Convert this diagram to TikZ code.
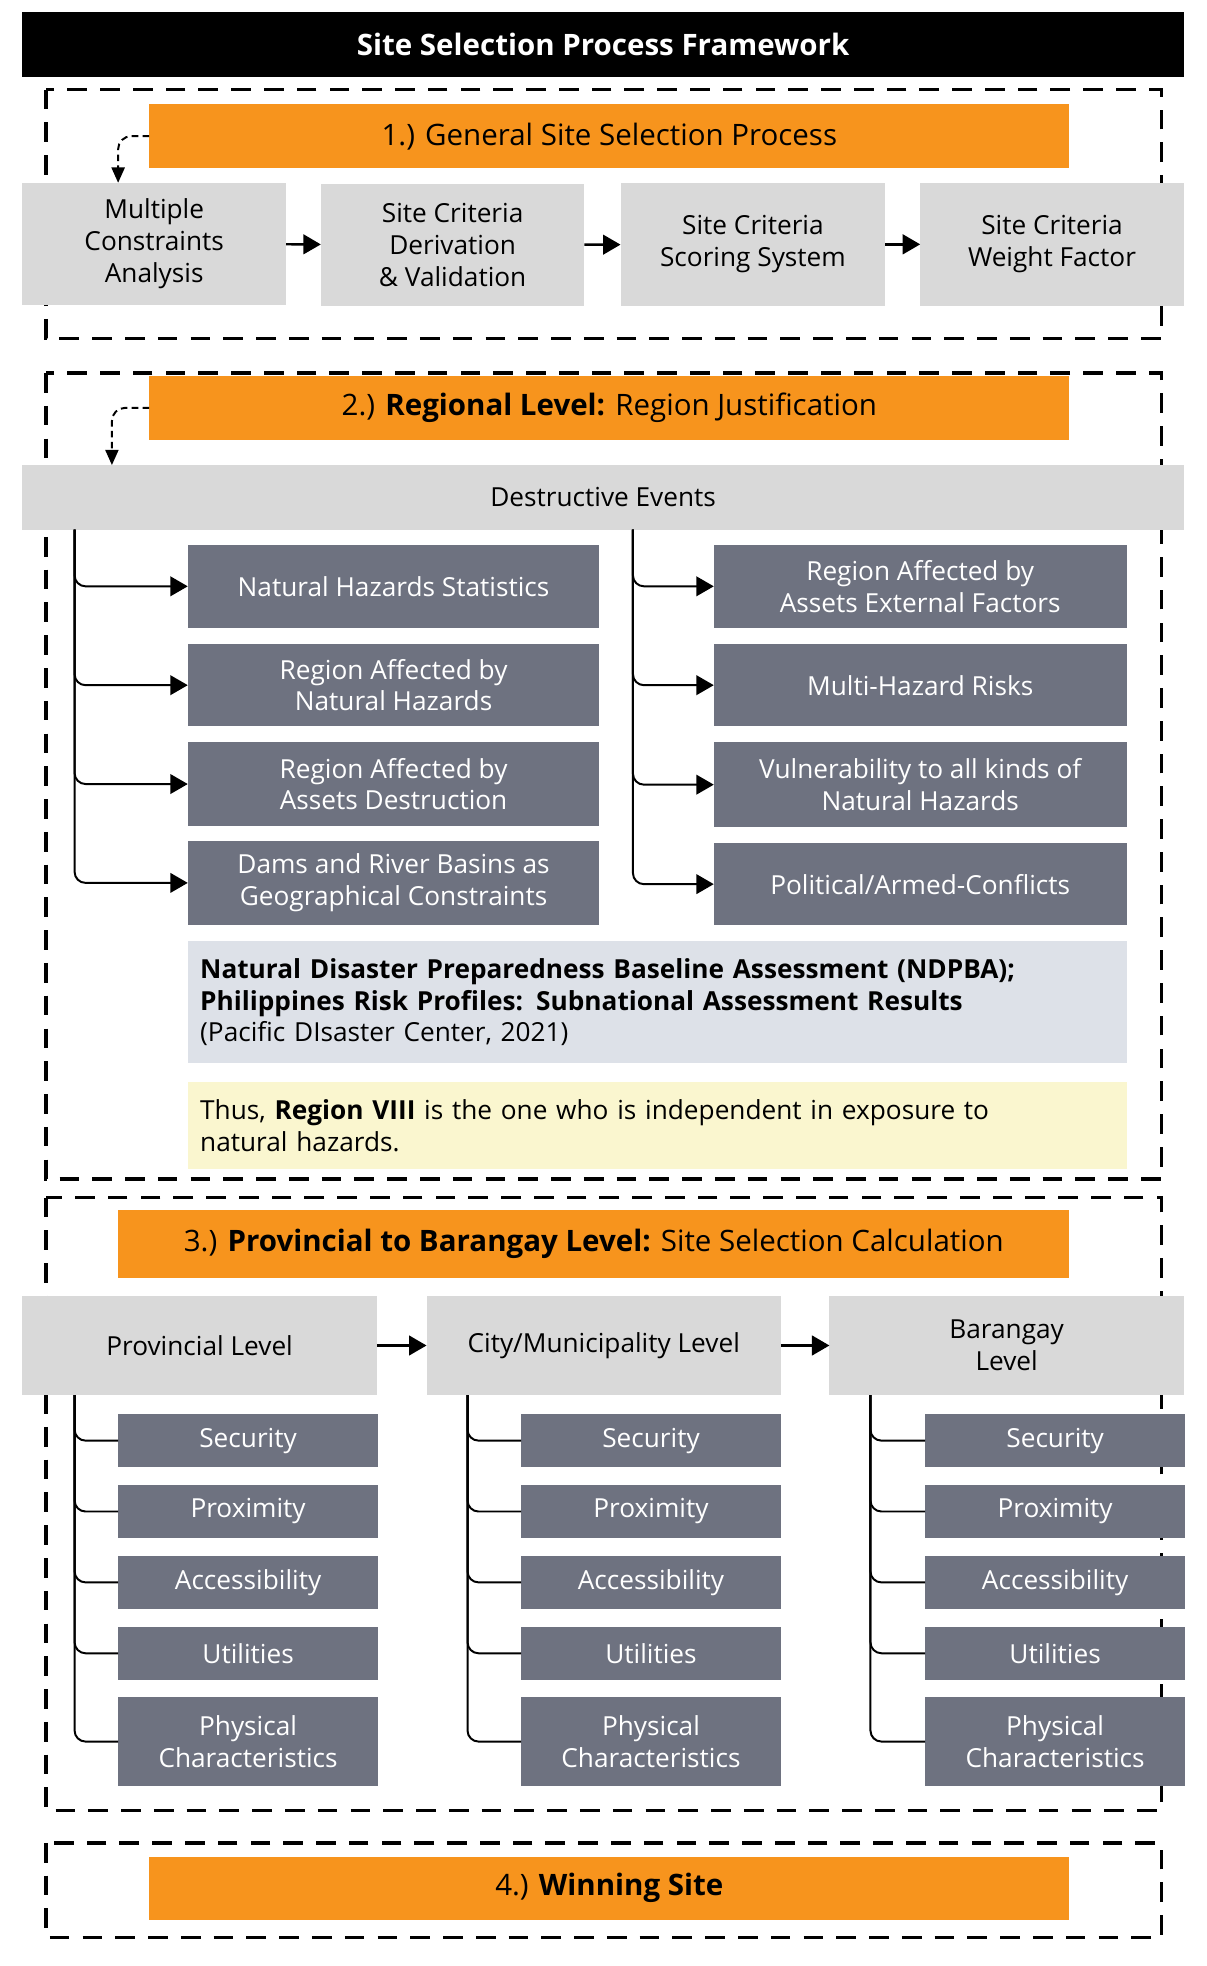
\documentclass[tikz,border=0pt]{standalone}
\usepackage{fontspec}
\setmainfont{Open Sans}
\usetikzlibrary{arrows.meta}
\definecolor{org}{HTML}{F7941D}
\definecolor{lg}{HTML}{D9D9D9}
\definecolor{dg}{HTML}{6E7280}
\definecolor{bl}{HTML}{DDE1E8}
\definecolor{yl}{HTML}{FAF6CF}
\newcommand{\mybox}[7]{\node[#6, minimum width={0.02cm*(#4-#2)}, minimum height={0.02cm*(#5-#3)}] (#1) at ({(#2+#4)/2},{(#3+#5)/2}) {#7};}
\begin{document}
\begin{tikzpicture}[x=0.02cm,y=-0.02cm,
  every node/.style={inner sep=0pt, outer sep=0pt, font=\fontsize{12}{14.5}\selectfont, align=center},
  org/.style={fill=org},
  lg/.style={fill=lg},
  dg/.style={fill=dg, text=white},
  sec/.style={draw, line width=1.5pt, dash pattern=on 9pt off 6pt},
  arr/.style={line width=1.1pt, -{Triangle[length=8pt,width=9pt]}},
  br/.style={line width=0.9pt, rounded corners=5pt},
  dsh/.style={line width=0.9pt, dash pattern=on 3pt off 2pt, rounded corners=6pt, -{Triangle[length=7pt,width=6pt]}}]
\useasboundingbox (0,0) rectangle (970,1581);
\mybox{title}{18}{10}{952}{62}{fill=black,text=white,font=\fontsize{13.5}{16}\selectfont\bfseries}{Site Selection Process Framework}
% section 1
\draw[sec] (37,72) rectangle (934,272);
\mybox{o1}{120}{84}{860}{135}{org,font=\fontsize{13.5}{16}\selectfont}{1.) General Site Selection Process}
\mybox{a}{18}{147}{230}{245}{lg}{Multiple\\Constraints\\Analysis}
\mybox{b}{258}{148}{470}{246}{lg}{Site Criteria\\Derivation\\\& Validation}
\mybox{c}{499}{147}{712}{246}{lg}{Site Criteria\\Scoring System}
\mybox{d}{740}{147}{952}{246}{lg}{Site Criteria\\Weight Factor}
\draw[arr] (a) -- (b);
\draw[arr] (b) -- (c);
\draw[arr] (c) -- (d);
\coordinate (a1) at (95,147);
\draw[dsh] (o1.west) -| (a1);
% section 2
\draw[sec] (37,300) rectangle (934,948);
\mybox{o2}{120}{302}{860}{354}{org,font=\fontsize{13.5}{16}\selectfont}{2.) \textbf{Regional Level:} Region Justification}
\mybox{de}{18}{374}{952}{426}{lg}{Destructive Events}
\coordinate (a2) at (90,374);
\draw[dsh] (o2.west) -| (a2);
\mybox{l1}{151}{438}{482}{505}{dg}{Natural Hazards Statistics}
\mybox{l2}{151}{518}{482}{584}{dg}{Region Affected by\\Natural Hazards}
\mybox{l3}{151}{597}{482}{664}{dg}{Region Affected by\\Assets Destruction}
\mybox{l4}{151}{676}{482}{744}{dg}{Dams and River Basins as\\Geographical Constraints}
\mybox{r1}{574}{438}{906}{505}{dg}{Region Affected by\\Assets External Factors}
\mybox{r2}{574}{518}{906}{584}{dg}{Multi-Hazard Risks}
\mybox{r3}{574}{597}{906}{665}{dg}{Vulnerability to all kinds of\\Natural Hazards}
\mybox{r4}{574}{678}{906}{744}{dg}{Political/Armed-Conflicts}
\coordinate (tl) at (60,426);
\coordinate (tr) at (509,426);
\foreach \n in {l1,l2,l3,l4} \draw[arr,br,line width=0.9pt] (tl) |- (\n.west);
\foreach \n in {r1,r2,r3,r4} \draw[arr,br,line width=0.9pt] (tr) |- (\n.west);
\node[fill=bl, minimum width={0.02cm*755}, minimum height={0.02cm*98}, text width={0.02cm*735}, align=left] (nd) at (528.5,806) {\textbf{Natural Disaster Preparedness Baseline Assessment (NDPBA);}\\\textbf{Philippines Risk Profiles: Subnational Assessment Results}\\(Pacific DIsaster Center, 2021)};
\node[fill=yl, minimum width={0.02cm*755}, minimum height={0.02cm*70}, text width={0.02cm*735}, align=left] (th) at (528.5,905) {Thus, \textbf{Region VIII} is the one who is independent in exposure to\\natural hazards.};
% section 3
\draw[sec] (37,963) rectangle (934,1456);
\mybox{o3}{95}{973}{860}{1028}{org,font=\fontsize{13.5}{16}\selectfont}{3.) \textbf{Provincial to Barangay Level:} Site Selection Calculation}
\mybox{p}{18}{1042}{303}{1122}{lg}{Provincial Level}
\mybox{m}{343}{1042}{628}{1122}{lg}{City/Municipality Level}
\mybox{g}{667}{1042}{952}{1122}{lg}{Barangay\\Level}
\draw[arr] (p) -- (m);
\draw[arr] (m) -- (g);
\foreach \col/\bx/\tx in {p/95/60, m/419/376, g/744/700} {
  \mybox{\col1}{\bx}{1137}{\bx+209}{1180}{dg}{Security}
  \mybox{\col2}{\bx}{1194}{\bx+209}{1237}{dg}{Proximity}
  \mybox{\col3}{\bx}{1251}{\bx+209}{1294}{dg}{Accessibility}
  \mybox{\col4}{\bx}{1308}{\bx+209}{1351}{dg}{Utilities}
  \mybox{\col5}{\bx}{1365}{\bx+209}{1436}{dg}{Physical\\Characteristics}
  \coordinate (\col t) at (\tx,1122);
  \foreach \k in {1,...,5} \draw[br] (\col t) |- (\col\k.west);
}
% section 4
\draw[sec] (37,1482) rectangle (934,1558);
\mybox{o4}{120}{1493}{860}{1544}{org,font=\fontsize{13.5}{16}\selectfont}{4.) \textbf{Winning Site}}
\end{tikzpicture}
\end{document}
